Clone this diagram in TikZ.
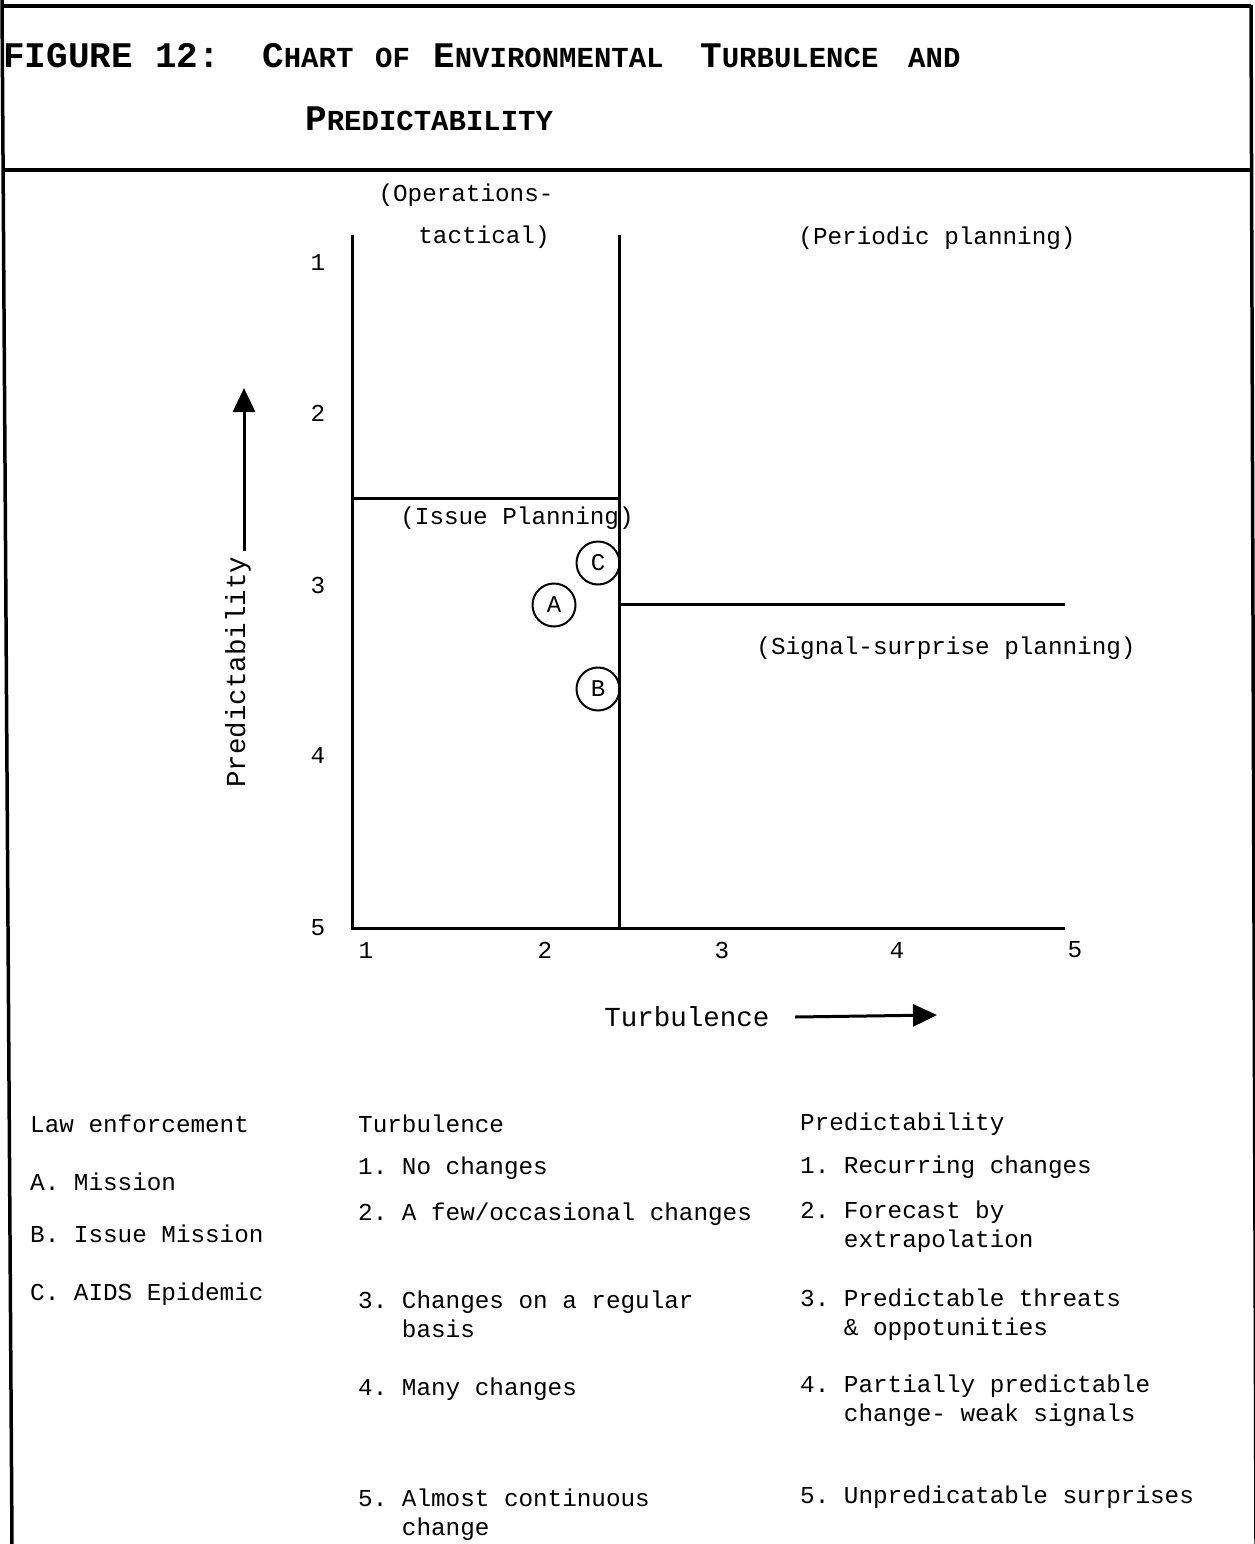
\documentclass[tikz,border=0pt]{standalone}
\usepackage{fontspec}
\usetikzlibrary{arrows.meta}
\newfontfamily\tw{Liberation Mono}
\frenchspacing
% small caps by hand: big first letter, smaller rest
\newcommand\capword[2]{{\fontsize{36}{36}\selectfont #1}{\fontsize{29}{29}\selectfont #2}}

\tikzset{
  txt/.style={font=\tw\fontsize{24.3}{29}\selectfont, inner sep=0pt},
  axtitle/.style={font=\tw\fontsize{27.5}{30}\selectfont},
  lgd/.style={txt, anchor=base west, align=left},
  ttl/.style={font=\tw\bfseries, inner sep=0pt, anchor=base west},
  frame/.style={line width=3.5pt},
  axis/.style={line width=3pt},
  case/.style={circle, draw, line width=2pt, minimum size=43pt, inner sep=0pt,
    font=\tw\fontsize{24}{24}\selectfont},
  bigarrow/.style={line width=3pt, -{Triangle[length=24pt,width=22pt]}}
}

\begin{document}
\begin{tikzpicture}[x=1pt,y=-1pt]
\clip (0,0) rectangle (1255,1544);

% frame
\draw[frame] (2,0) -- (12,1544);
\draw[frame] (1251,5) -- (1256,1544);
\draw[frame] (2,6) -- (1251,6);
\draw[frame] (3,170) -- (1251,170);

% title
\node[ttl] (fig) at (3,68) {\capword{FIGURE}{}};
\node[ttl] (num) at (155,68) {\capword{12:}{}};
\node[ttl] (chart) at (262,68) {\capword{C}{HART}};
\node[ttl] (of) at (375,68) {\capword{}{OF}};
\node[ttl] (env) at (433,68) {\capword{E}{NVIRONMENTAL}};
\node[ttl] (turbw) at (700,68) {\capword{T}{URBULENCE}};
\node[ttl] (and) at (908,68) {\capword{}{AND}};
\node[ttl] (predw) at (305,131) {\capword{P}{REDICTABILITY}};

% chart
\coordinate (o) at (352,928);
\coordinate (ytop) at (352,235);
\coordinate (mtop) at (619,235);
\coordinate (mbot) at (619,928);
\coordinate (xend) at (1065,928);
\coordinate (iss) at (352,498);
\coordinate (issm) at (619,498);
\coordinate (sigm) at (619,604);
\coordinate (sig) at (1065,604);
\draw[axis] (ytop) -- (o) -- (xend);
\draw[axis] (mtop) -- (mbot);
\draw[axis] (iss) -- (issm);
\draw[axis] (sigm) -- (sig);

\foreach \n/\yy in {1/262,2/413,3/585,4/755,5/928}
  \node[txt] (y\n) at (318,\yy) {\n};
\foreach \n/\xx in {1/366,2/545,3/722,4/897,5/1075}
  \node[txt] (x\n) at (\xx,950) {\n};

\node[txt] (ops) at (466,195) {(Operations-};
\node[txt] (tact) at (484,237) {tactical)};
\node[txt] (periodic) at (937,238) {(Periodic planning)};
\node[txt] (issue) at (517,518) {(Issue Planning)};
\node[txt] (signal) at (946,648) {(Signal-surprise planning)};

\node[case] (C) at (598,563) {C};
\node[case] (A) at (554,605) {A};
\node[case] (B) at (598,689) {B};

% axis titles
\node[axtitle, rotate=90, inner sep=5pt] (pred) at (238,672) {Predictability};
\coordinate (predtip) at (244,388);
\draw[bigarrow] (pred.east -| predtip) -- (predtip);
\node[axtitle] (turb) at (687,1017) {Turbulence};
\coordinate (turbtip) at (937,1015);
\draw[bigarrow] ([xshift=22pt]turb.east) -- (turbtip);

% legend
\node[lgd] (law) at (30,1132) {Law enforcement};
\node[lgd] (la) at (30,1190) {A. Mission};
\node[lgd] (lb) at (30,1242) {B. Issue Mission};
\node[lgd] (lc) at (30,1300) {C. AIDS Epidemic};

\node[lgd] (tu0) at (358,1132) {Turbulence};
\node[lgd] (tu1) at (358,1174) {1. No changes};
\node[lgd] (tu2) at (358,1220) {2. A few/occasional changes};
\node[lgd] (tu3) at (358,1337) {3. Changes on a regular\\\hspace*{1.8em}basis};
\node[lgd] (tu4) at (358,1395) {4. Many changes};
\node[lgd] (tu5) at (358,1535) {5. Almost continuous\\\hspace*{1.8em}change};

\node[lgd] (pr0) at (800,1130) {Predictability};
\node[lgd] (pr1) at (800,1173) {1. Recurring changes};
\node[lgd] (pr2) at (800,1247) {2. Forecast by\\\hspace*{1.8em}extrapolation};
\node[lgd] (pr3) at (800,1335) {3. Predictable threats\\\hspace*{1.8em}\& oppotunities};
\node[lgd] (pr4) at (800,1421) {4. Partially predictable\\\hspace*{1.8em}change- weak signals};
\node[lgd] (pr5) at (800,1503) {5. Unpredicatable surprises};
\end{tikzpicture}
\end{document}
